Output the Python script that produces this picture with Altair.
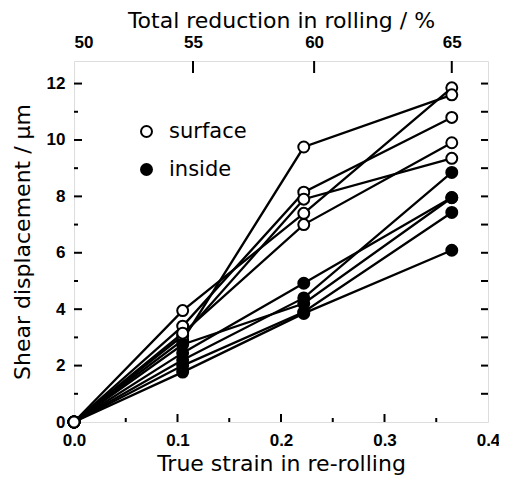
import altair as alt
import pandas as pd

# ---- data ----
strain = [0.0, 0.105, 0.222, 0.365]

surface_series = [
    [0.0, 3.95, 7.40, 11.85],
    [0.0, 2.90, 9.75, 11.60],
    [0.0, 3.40, 8.15, 10.80],
    [0.0, 3.05, 7.90, 9.35],
    [0.0, 3.15, 7.00, 9.90],
]
inside_series = [
    [0.0, 2.45, 4.92, 7.96],
    [0.0, 2.20, 4.40, 8.85],
    [0.0, 2.75, 4.20, 7.95],
    [0.0, 2.00, 3.90, 7.43],
    [0.0, 1.77, 3.85, 6.09],
]

x_tick_values = [0.0, 0.1, 0.2, 0.3, 0.4]
y_tick_values = [0, 2, 4, 6, 8, 10, 12]
top_labels = ["50", "55", "60", "65"]
top_strain = [0.0, 0.115, 0.232, 0.365]

# ---- tables ----
rows = []
for i, s in enumerate(surface_series):
    for x, y in zip(strain, s):
        rows.append({"series": f"s{i}", "type": "surface", "strain": x, "disp": y,
                     "z": 3 if x == 0 else 1})
for i, s in enumerate(inside_series):
    for x, y in zip(strain, s):
        rows.append({"series": f"i{i}", "type": "inside", "strain": x, "disp": y,
                     "z": 0 if x == 0 else 2})
df = pd.DataFrame(rows)

W, H = 414, 361
LFONT = "Liberation Sans"
TFONT = "DejaVu Sans"

xscale = alt.Scale(domain=[0, 0.4], nice=False, zero=False)
yscale = alt.Scale(domain=[0, 12.8], nice=False, zero=False)

bottom_axis = alt.Axis(values=x_tick_values, format=".1f", ticks=False, tickSize=0,
                       domain=False, grid=False, labelFlush=False, labelOverlap=False,
                       labelFontSize=17, labelFont=LFONT, labelFontWeight="bold",
                       labelColor="black", labelPadding=10,
                       title="True strain in re-rolling", titleFont=TFONT,
                       titleFontSize=22, titleFontWeight="normal", titleColor="black",
                       titlePadding=5)
left_axis = alt.Axis(values=y_tick_values, format="d", ticks=False, tickSize=0,
                     domain=False, grid=False, labelFlush=False, labelOverlap=False,
                     labelFontSize=17, labelFont=LFONT, labelFontWeight="bold",
                     labelColor="black", labelPadding=9,
                     title="Shear displacement / μm", titleFont=TFONT,
                     titleFontSize=22, titleFontWeight="normal", titleColor="black",
                     titlePadding=12)

label_expr = " : ".join(
    f"abs(datum.value - {p}) < 0.001 ? '{l}'" for p, l in zip(top_strain, top_labels)
) + " : ''"
top_axis = alt.Axis(orient="top", values=top_strain, labelExpr=label_expr,
                    ticks=False, tickSize=0, domain=False, grid=False,
                    labelFlush=True, labelOverlap=False,
                    labelFontSize=17, labelFont=LFONT, labelFontWeight="bold",
                    labelColor="black", labelPadding=10,
                    title="Total reduction in rolling  /  %", titleFont=TFONT,
                    titleFontSize=22, titleFontWeight="normal", titleColor="black",
                    titlePadding=1)

lines = alt.Chart(df).mark_line(color="black", strokeWidth=2.3).encode(
    x=alt.X("strain:Q", scale=xscale, axis=bottom_axis),
    y=alt.Y("disp:Q", scale=yscale, axis=left_axis),
    detail="series:N",
)

points = alt.Chart(df).mark_point(shape="circle", filled=True, stroke="black",
                                  strokeWidth=2, size=120, opacity=1).encode(
    x=alt.X("strain:Q", scale=xscale, axis=None),
    y=alt.Y("disp:Q", scale=yscale, axis=None),
    fill=alt.Fill("type:N",
                  scale=alt.Scale(domain=["surface", "inside"], range=["white", "black"]),
                  legend=alt.Legend(title=None, orient="none", legendX=62, legendY=60,
                                    symbolType="circle", symbolSize=120,
                                    symbolStrokeColor="black", symbolStrokeWidth=2,
                                    labelFont=TFONT, labelFontSize=21, labelColor="black",
                                    labelOffset=12, rowPadding=16)),
    order=alt.Order("z:Q"),
)

# inward tick marks
xt_major = pd.DataFrame({"v": [0.1, 0.2, 0.3]})
xt_minor = pd.DataFrame({"v": [0.05, 0.15, 0.25, 0.35]})
yt_major = pd.DataFrame({"v": [2, 4, 6, 8, 10, 12]})
yt_minor = pd.DataFrame({"v": [1, 3, 5, 7, 9, 11]})
yt_right = pd.DataFrame({"v": list(range(1, 13))})
top_df = pd.DataFrame({"pos": top_strain[1:]})

tick_style = dict(color="black", strokeWidth=2)
bx1 = alt.Chart(xt_major).mark_rule(**tick_style).encode(
    x=alt.X("v:Q", scale=xscale, axis=None), y=alt.value(H), y2=alt.value(H - 8))
bx2 = alt.Chart(xt_minor).mark_rule(**tick_style).encode(
    x=alt.X("v:Q", scale=xscale, axis=None), y=alt.value(H), y2=alt.value(H - 4))
ly1 = alt.Chart(yt_major).mark_rule(**tick_style).encode(
    y=alt.Y("v:Q", scale=yscale, axis=None), x=alt.value(0), x2=alt.value(8))
ly2 = alt.Chart(yt_minor).mark_rule(**tick_style).encode(
    y=alt.Y("v:Q", scale=yscale, axis=None), x=alt.value(0), x2=alt.value(4))
ry = alt.Chart(yt_right).mark_rule(**tick_style).encode(
    y=alt.Y("v:Q", scale=yscale, axis=None), x=alt.value(W - 7), x2=alt.value(W))
top_ticks = alt.Chart(top_df).mark_rule(**tick_style).encode(
    x=alt.X("pos:Q", scale=xscale, axis=top_axis), y=alt.value(0), y2=alt.value(12))

chart = alt.layer(
    lines, bx1, bx2, ly1, ly2, ry, top_ticks, points
).resolve_axis(x="independent", y="independent").properties(
    width=W, height=H,
    padding={"left": 66, "top": 53, "right": 11, "bottom": 54},
    autosize=alt.AutoSizeParams(type="none"),
).configure_view(stroke="black", strokeWidth=2.5).configure(background="white")

chart.save("out.html", embed_options={"renderer": "svg", "actions": False})
